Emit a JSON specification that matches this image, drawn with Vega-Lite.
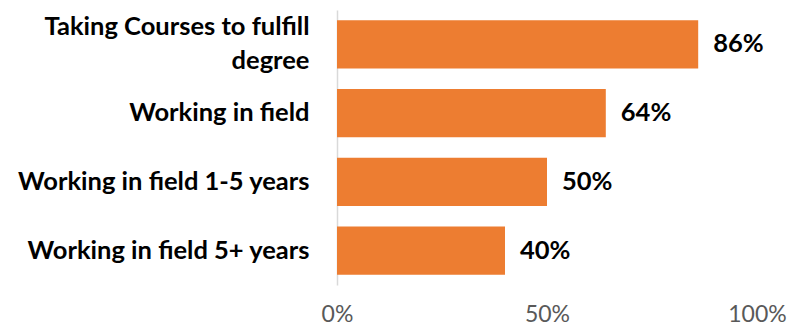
{
  "$schema": "https://vega.github.io/schema/vega-lite/v6.json",
  "width": 420,
  "height": 275,
  "autosize": "none",
  "padding": {"left": 337, "top": 10, "right": 42, "bottom": 43},
  "background": "white",
  "config": {"view": {"stroke": null}, "font": "Lato"},
  "data": {"values": [
    {"category": "Taking Courses to fulfill degree", "value": 0.86},
    {"category": "Working in field", "value": 0.64},
    {"category": "Working in field 1-5 years", "value": 0.50},
    {"category": "Working in field 5+ years", "value": 0.40}
  ]},
  "encoding": {
    "y": {"field": "category", "type": "nominal", "sort": null,
      "scale": {"paddingInner": 0.3, "paddingOuter": 0.15},
      "axis": {"title": null, "ticks": false, "domainColor": "#d9d9d9", "domainWidth": 1.5,
        "labelFont": "Lato", "labelFontWeight": "bold", "labelFontSize": 25.5, "labelColor": "#000000",
        "labelPadding": 28, "labelLimit": 400, "labelLineHeight": 34,
        "labelOffset": {"condition": {"test": "datum.value == 'Taking Courses to fulfill degree'", "value": -17}, "value": 0},
        "labelExpr": "datum.label == 'Taking Courses to fulfill degree' ? ['Taking Courses to fulfill', 'degree'] : datum.label"}},
    "x": {"field": "value", "type": "quantitative",
      "scale": {"domain": [0, 1], "nice": false},
      "axis": {"title": null, "values": [0, 0.5, 1], "format": ".0%", "domain": false, "ticks": false, "grid": false,
        "labelFont": "Lato", "labelFontSize": 23, "labelColor": "#595959", "labelPadding": 18, "labelFlush": false}}
  },
  "layer": [
    {"mark": {"type": "bar", "color": "#ED7D31"}},
    {"mark": {"type": "text", "align": "left", "baseline": "middle", "dx": 15, "font": "Lato", "fontWeight": "bold", "fontSize": 25.5, "color": "#000000"},
      "encoding": {"text": {"field": "value", "type": "quantitative", "format": ".0%"}}}
  ]
}
